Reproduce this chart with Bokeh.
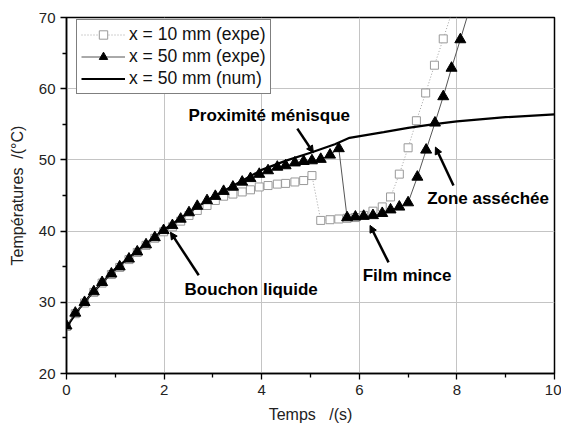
from bokeh.plotting import figure
from bokeh.models import (Legend, LegendItem, Arrow, NormalHead, Label,
                          ColumnDataSource, FixedTicker, Range1d)
from bokeh.embed import file_html
from bokeh.resources import INLINE

# ---- data ----
t_expe = [0.0, 0.18, 0.37, 0.56, 0.73, 0.92, 1.09, 1.28, 1.45, 1.63, 1.81,
          1.99, 2.17, 2.34, 2.51, 2.68, 2.88, 3.05, 3.22, 3.41, 3.60, 3.77,
          3.95, 4.13, 4.32, 4.49, 4.68, 4.86, 5.03, 5.21, 5.40, 5.58, 5.75,
          5.92, 6.09, 6.28, 6.47, 6.64, 6.82, 7.00, 7.19, 7.37, 7.55, 7.72,
          7.89, 8.07, 8.25]
T_50_expe = [26.7, 28.5, 30.0, 31.5, 32.8, 34.0, 35.0, 36.1, 37.1, 38.1, 39.1,
             40.1, 40.8, 41.7, 42.6, 43.5, 44.3, 44.9, 45.6, 46.2, 46.9, 47.4,
             48.0, 48.5, 49.0, 49.2, 49.6, 49.8, 49.9, 50.1, 50.7, 51.6, 41.9,
             42.0, 42.1, 42.2, 42.5, 43.0, 43.4, 44.0, 47.6, 51.4, 55.2, 58.9,
             62.9, 66.9, 71.0]

t_10 = [0.0, 0.18, 0.37, 0.56, 0.73, 0.92, 1.09, 1.28, 1.45, 1.63, 1.81,
        1.99, 2.17, 2.34, 2.51, 2.68, 2.88, 3.05, 3.22, 3.41, 3.60, 3.77,
        3.95, 4.13, 4.32, 4.49, 4.68, 4.86, 5.03, 5.21, 5.40, 5.58, 5.75,
        5.92, 6.09, 6.28, 6.47, 6.64, 6.82, 7.00, 7.17, 7.36, 7.54, 7.72,
        7.90]
T_10_expe = [26.6, 28.4, 29.9, 31.4, 32.7, 33.9, 34.9, 36.0, 37.0, 38.0, 39.0,
             39.9, 40.6, 41.4, 42.2, 42.9, 43.6, 44.3, 44.9, 45.2, 45.5, 45.8,
             46.2, 46.4, 46.6, 46.7, 46.9, 47.1, 47.8, 41.5, 41.6, 41.7, 41.8,
             41.9, 42.2, 42.8, 43.4, 44.8, 48.0, 51.7, 55.5, 59.4, 63.3, 67.0,
             70.8]

t_num = [0.0, 0.25, 0.5, 1.0, 1.5, 2.0, 2.5, 3.0, 3.5, 4.0, 4.5, 5.0, 5.5,
         5.8, 6.5, 7.0, 7.5, 8.0, 9.0, 10.0]
T_50_num = [26.5, 29.0, 31.1, 34.7, 37.5, 40.2, 42.6, 44.8, 46.7, 48.6, 49.9,
            51.0, 52.2, 53.1, 53.9, 54.5, 55.0, 55.4, 56.0, 56.4]

x_ticks = [0, 2, 4, 6, 8, 10]
x_minor = [1, 3, 5, 7, 9]
y_ticks = [20, 30, 40, 50, 60, 70]
y_minor = [25, 35, 45, 55, 65]

legend_labels = ["x = 10 mm (expe)", "x = 50 mm (expe)", "x = 50 mm (num)"]

# annotations: text, text x, text y, arrow start x, y, arrow end x, y
ann_text = ["Proximité ménisque", "Bouchon liquide", "Film mince", "Zone asséchée"]
ann_tx = [2.50, 2.42, 6.07, 7.39]
ann_ty = [56.2, 31.8, 33.8, 44.6]
arr_x0 = [4.73, 2.71, 6.60, 7.93]
arr_y0 = [54.4, 33.8, 35.6, 46.4]
arr_x1 = [5.06, 2.13, 6.22, 7.56]
arr_y1 = [51.0, 39.85, 40.8, 51.8]

FONT = "Liberation Sans"
NB = "\u00a0"

p = figure(width=561, height=430, x_range=Range1d(0, 10), y_range=Range1d(20, 70),
           output_backend="svg", toolbar_location=None,
           min_border_left=66, min_border_right=7, min_border_top=17,
           min_border_bottom=57, background_fill_color="white",
           border_fill_color="white")

p.outline_line_color = "black"
p.outline_line_width = 1.5
p.outline_line_alpha = 1.0

p.xaxis.ticker = FixedTicker(ticks=x_ticks, minor_ticks=x_minor)
p.yaxis.ticker = FixedTicker(ticks=y_ticks, minor_ticks=y_minor)
for ax in (p.xaxis, p.yaxis):
    ax.axis_line_width = 1.5
    ax.axis_line_color = "black"
    ax.major_tick_in = 0
    ax.major_tick_out = 6
    ax.minor_tick_in = 0
    ax.minor_tick_out = 4
    ax.major_tick_line_width = 1.3
    ax.minor_tick_line_width = 1.3
    ax.major_label_text_font = FONT
    ax.major_label_text_font_size = "15px"
    ax.major_label_text_color = "#222222"
    ax.axis_label_text_font = FONT
    ax.axis_label_text_font_size = "16px"
    ax.axis_label_text_font_style = "normal"
    ax.axis_label_text_color = "#222222"

p.xaxis.axis_label = "Temps" + NB * 3 + "/(s)"
p.yaxis.axis_label = "Températures" + NB * 2 + "/(°C)"
p.xaxis.axis_label_standoff = 8
p.yaxis.axis_label_standoff = 10
p.xaxis.major_label_standoff = 5
p.yaxis.major_label_standoff = 5

p.xgrid.ticker = FixedTicker(ticks=x_ticks)
p.ygrid.ticker = FixedTicker(ticks=y_ticks)
p.grid.grid_line_color = "#c4c4c4"
p.grid.grid_line_width = 1

src10 = ColumnDataSource(dict(t=t_10, T=T_10_expe))
src50 = ColumnDataSource(dict(t=t_expe, T=T_50_expe))
srcn = ColumnDataSource(dict(t=t_num, T=T_50_num))

l10 = p.line("t", "T", source=src10, line_color="#a0a0a0", line_width=1,
             line_dash="1 2")
s10 = p.scatter("t", "T", source=src10, marker="square", size=8,
                fill_color="white", line_color="#999999", line_width=1)
ln = p.line("t", "T", source=srcn, line_color="black", line_width=2.2)
l50 = p.line("t", "T", source=src50, line_color="#555555", line_width=1)
s50 = p.scatter("t", "T", source=src50, marker="triangle", size=11,
                fill_color="black", line_color="black")

legend = Legend(items=[
    LegendItem(label=legend_labels[0], renderers=[l10, s10]),
    LegendItem(label=legend_labels[1], renderers=[l50, s50]),
    LegendItem(label=legend_labels[2], renderers=[ln]),
], location=(10, 279))
legend.border_line_color = "black"
legend.border_line_width = 1
legend.background_fill_color = "white"
legend.background_fill_alpha = 1
legend.label_text_font = FONT
legend.label_text_font_size = "17.5px"
legend.label_text_color = "#111111"
legend.glyph_width = 44
legend.glyph_height = 21
legend.label_height = 21
legend.label_standoff = 4
legend.padding = 4
legend.spacing = 1
legend.margin = 0
p.add_layout(legend, "center")

for i in range(len(ann_text)):
    p.add_layout(Label(x=ann_tx[i], y=ann_ty[i], text=ann_text[i],
                       text_font=FONT, text_font_size="17px",
                       text_font_style="bold", text_color="black",
                       text_baseline="middle", text_align="left"))
    p.add_layout(Arrow(x_start=arr_x0[i], y_start=arr_y0[i],
                       x_end=arr_x1[i], y_end=arr_y1[i],
                       line_color="black", line_width=2.5,
                       end=NormalHead(size=7, fill_color="black",
                                      line_color="black", line_width=1)))

open("out.html", "w").write(file_html(p, INLINE))
